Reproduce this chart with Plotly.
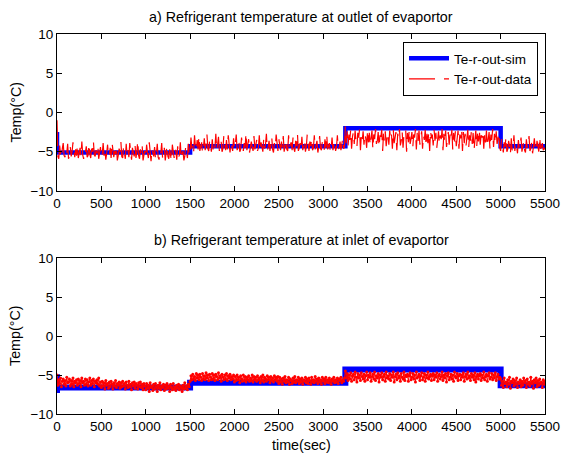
import numpy as np
import plotly.graph_objects as go
from plotly.subplots import make_subplots

# Sampling interval of the logged data (s)
DT = 10

# a) outlet of evaporator -- simulated step levels (hv steps)
sim_out_t = [0, 0, 1500, 3250, 5000, 5500]
sim_out_v = [-2.5, -5.1, -4.3, -2.0, -4.3, -4.3]

# a) outlet of evaporator -- measured data, one value every DT seconds
data_out_v = [
    # 0 - 1490 s
    -1.0, -5.6, -5.9, -4.2, -5.3, -5.8, -4.6, -3.9, -5.5, -5.7, -4.8, -5.2, -4.0, -5.9, -5.4, -4.4, -5.6, -5.0, -3.8, -5.3, -5.7, -4.7, -5.5, -4.1, -5.8,
    -5.2, -4.5, -5.6, -3.7, -5.4, -5.9, -4.9, -5.1, -4.3, -5.7, -5.5, -4.0, -5.3, -5.8, -4.6, -5.0, -3.6, -5.4, -5.6, -4.8, -5.2, -4.2, -5.9, -5.1, -4.4,
    -5.7, -5.3, -3.9, -5.5, -4.7, -6.0, -5.2, -4.1, -5.6, -5.4, -4.5, -5.8, -3.8, -5.1, -5.7, -4.9, -5.3, -4.3, -6.1, -5.5, -4.6, -5.0, -3.7, -5.6, -5.8,
    -4.4, -5.2, -5.9, -4.0, -5.4, -4.8, -5.7, -3.9, -5.3, -6.0, -4.5, -5.1, -5.6, -4.2, -5.8, -5.0, -3.6, -5.5, -5.9, -4.7, -5.3, -4.3, -6.1, -5.4, -4.9,
    -5.7, -4.1, -5.2, -5.8, -3.8, -5.5, -6.2, -4.6, -5.0, -5.6, -4.4, -5.9, -5.3, -4.0, -5.7, -6.0, -4.8, -5.2, -3.9, -5.8, -5.5, -4.5, -6.1, -5.1, -4.2,
    -5.6, -5.9, -4.7, -5.3, -6.2, -4.1, -5.5, -5.8, -4.6, -5.0, -6.0, -4.3, -5.7, -5.4, -3.8, -5.9, -5.2, -4.9, -6.1, -5.6, -4.4, -5.3, -5.8, -4.0, -5.5,
    # 1500 - 3240 s
    -4.9, -3.2, -4.6, -4.1, -5.0, -2.9, -4.4, -4.8, -3.5, -4.7, -3.0, -4.9, -4.3, -3.8, -5.1, -4.5, -3.3, -4.8, -4.0, -2.8, -4.6, -4.9, -3.6, -4.2, -5.0,
    -3.4, -4.7, -3.9, -4.5, -2.7, -4.8, -4.1, -3.1, -4.9, -4.4, -3.7, -5.0, -4.6, -3.0, -4.3, -4.8, -3.5, -4.7, -2.9, -4.5, -5.1, -3.8, -4.2, -4.9, -3.3,
    -4.6, -4.0, -2.8, -4.8, -4.4, -3.6, -5.0, -4.7, -3.2, -4.3, -4.9, -3.9, -4.5, -2.6, -4.8, -4.1, -3.4, -5.1, -4.6, -3.7, -4.4, -4.9, -3.0, -4.7, -4.2,
    -3.5, -4.9, -4.5, -2.9, -4.8, -3.8, -4.3, -5.0, -3.3, -4.6, -4.1, -2.7, -4.8, -4.4, -3.6, -4.9, -4.0, -3.1, -4.7, -5.1, -3.9, -4.5, -2.8, -4.6, -4.9,
    -3.4, -4.2, -4.8, -3.7, -4.5, -3.0, -5.0, -4.3, -3.5, -4.7, -4.9, -2.9, -4.4, -4.1, -3.8, -4.8, -3.2, -4.6, -5.0, -3.6, -4.3, -2.7, -4.9, -4.5, -3.9,
    -4.7, -3.1, -4.8, -4.2, -3.5, -5.0, -4.4, -2.8, -4.6, -4.9, -3.7, -4.3, -3.3, -4.8, -4.5, -2.9, -4.7, -4.0, -3.6, -5.1, -4.4, -3.0, -4.6, -4.8, -3.8,
    -4.2, -4.9, -3.4, -4.5, -2.8, -4.7, -4.3, -3.9, -5.0, -4.6, -3.2, -4.8, -4.1, -3.6, -4.9, -4.4, -2.9, -4.7, -4.5, -3.7, -4.8, -4.2, -3.3, -4.6, -4.4,
    # 3250 - 4990 s
    -1.8, -3.9, -2.4, -4.3, -2.8, -3.5, -2.2, -4.6, -3.1, -2.5, -4.0, -2.3, -3.7, -4.4, -2.6, -3.2, -2.1, -4.8, -2.9, -3.6, -2.4, -4.1, -2.7, -3.3, -4.5,
    -2.2, -3.8, -2.6, -4.2, -3.0, -2.3, -4.7, -2.8, -3.4, -2.1, -4.0, -3.6, -2.5, -4.4, -2.9, -3.1, -2.2, -4.9, -2.7, -3.7, -2.4, -4.3, -3.2, -2.6, -4.1,
    -2.3, -3.5, -2.8, -4.6, -2.2, -3.9, -3.0, -2.5, -4.8, -2.7, -3.3, -2.1, -4.2, -3.6, -2.4, -4.5, -2.9, -3.1, -2.3, -5.0, -2.6, -3.8, -2.2, -4.0, -3.4,
    -2.5, -4.4, -2.8, -3.2, -2.1, -4.7, -2.6, -3.7, -2.3, -4.1, -3.0, -2.4, -4.6, -2.9, -3.5, -2.2, -4.3, -2.7, -3.9, -2.5, -4.9, -2.3, -3.3, -2.8, -4.2,
    -2.2, -3.6, -2.6, -4.5, -3.1, -2.4, -4.0, -2.9, -3.4, -2.1, -4.8, -2.7, -3.8, -2.3, -4.4, -3.2, -2.5, -4.1, -2.8, -3.5, -2.2, -4.7, -2.6, -3.7, -2.4,
    -4.3, -3.0, -2.3, -4.6, -2.8, -3.3, -2.1, -4.9, -2.5, -3.9, -2.7, -4.2, -3.4, -2.2, -4.5, -2.9, -3.6, -2.4, -4.0, -2.6, -4.8, -3.1, -2.3, -4.4, -2.7,
    -3.7, -2.2, -4.1, -2.9, -3.2, -2.4, -4.6, -2.6, -3.8, -2.3, -4.3, -3.0, -2.5, -4.7, -2.8, -3.5, -2.1, -4.4, -2.7, -3.9, -2.4, -4.0, -3.3, -2.6, -4.5,
    # 5000 - 5500 s
    -4.9, -3.4, -4.6, -5.1, -3.8, -4.4, -3.1, -5.0, -4.7, -3.6, -4.2, -5.3, -3.3, -4.8, -4.5, -2.9, -4.9, -3.9, -4.3, -5.2, -3.5, -4.6, -4.1, -3.2, -5.0,
    -4.4, -3.7, -4.8, -5.1, -3.4, -4.5, -4.0, -3.0, -4.9, -4.6, -3.8, -5.2, -4.3, -3.3, -4.7, -4.9, -3.6, -4.2, -5.0, -3.1, -4.6, -4.4, -3.9, -4.8, -4.5,
    -4.7,
]

# b) inlet of evaporator -- simulated step levels (hv steps)
sim_in_t = [0, 0, 0, 1500, 3250, 5000, 5500]
sim_in_v = [-4.9, -7.3, -6.6, -6.0, -4.3, -6.3, -6.3]

# b) inlet of evaporator -- measured data, one value every DT seconds
data_in_v = [
    # 0 - 1490 s
    -5.0, -6.3, -5.6, -6.1, -5.4, -6.5, -5.8, -5.5, -6.2, -5.7, -6.4, -5.3, -6.0, -5.9, -5.5, -6.4, -5.7, -6.2, -5.4, -6.5, -5.8, -6.0, -5.6, -6.3, -5.5,
    -6.1, -5.7, -6.5, -5.4, -6.0, -5.8, -6.3, -5.5, -6.2, -5.6, -6.4, -5.9, -5.4, -6.3, -5.7, -6.1, -5.5, -6.5, -5.8, -6.0, -5.6, -6.2, -5.4, -6.4, -5.9,
    -6.6, -5.8, -6.4, -6.0, -6.8, -5.7, -6.3, -6.1, -6.7, -5.9, -6.5, -5.8, -6.2, -6.8, -6.0, -6.4, -5.7, -6.6, -6.1, -6.3, -5.9, -6.7, -6.0, -6.5, -5.8,
    -6.4, -6.1, -6.8, -5.9, -6.3, -6.6, -5.8, -6.5, -6.2, -6.9, -6.0, -6.4, -5.9, -6.7, -6.1, -6.3, -6.8, -6.0, -6.5, -5.9, -6.6, -6.2, -6.9, -6.1, -6.4,
    -6.9, -6.1, -6.7, -6.3, -7.1, -6.0, -6.6, -6.4, -7.0, -6.2, -6.8, -6.1, -6.5, -7.1, -6.3, -6.7, -6.0, -6.9, -6.4, -6.6, -6.2, -7.0, -6.3, -6.8, -6.1,
    -6.7, -6.4, -7.1, -6.2, -6.6, -6.9, -6.1, -6.8, -6.5, -7.0, -6.3, -6.7, -6.2, -6.9, -6.4, -6.6, -7.1, -6.3, -6.8, -6.0, -6.7, -6.4, -6.9, -6.2, -6.5,
    # 1500 - 3240 s
    -5.8, -5.1, -5.6, -4.9, -5.5, -5.2, -5.7, -4.8, -5.4, -5.0, -5.6, -4.9, -5.3, -5.7, -4.8, -5.5, -5.1, -5.6, -4.7, -5.4, -5.0, -5.7, -4.9, -5.3, -5.6,
    -4.8, -5.5, -5.0, -5.7, -4.9, -5.2, -5.6, -4.7, -5.4, -5.1, -5.8, -4.9, -5.3, -5.6, -5.0, -5.5, -4.8, -5.7, -5.1, -5.4, -4.9, -5.6, -5.2, -5.5, -5.0,
    -5.9, -5.2, -5.7, -5.0, -5.6, -5.3, -6.0, -5.1, -5.5, -5.8, -5.0, -5.7, -5.2, -5.9, -5.3, -5.6, -5.1, -5.8, -5.4, -5.7, -5.0, -5.9, -5.2, -5.6, -5.3,
    -5.8, -5.1, -5.6, -5.4, -6.0, -5.2, -5.7, -5.0, -5.9, -5.3, -5.5, -5.8, -5.1, -5.6, -5.3, -6.0, -5.2, -5.7, -5.4, -5.9, -5.1, -5.6, -5.3, -5.8, -5.2,
    -6.1, -5.3, -5.9, -5.5, -6.2, -5.4, -5.8, -5.2, -6.0, -5.6, -5.9, -5.3, -6.2, -5.5, -5.7, -6.1, -5.4, -5.9, -5.2, -6.0, -5.6, -5.8, -5.3, -6.1, -5.5,
    -5.9, -5.4, -6.2, -5.6, -5.8, -5.3, -6.0, -5.5, -6.1, -5.4, -5.7, -6.2, -5.3, -5.9, -5.6, -6.0, -5.2, -5.8, -5.5, -6.1, -5.4, -5.9, -5.6, -6.2, -5.3,
    -5.8, -5.5, -6.1, -5.3, -5.9, -5.6, -6.0, -5.4, -5.7, -6.2, -5.5, -5.8, -5.3, -6.0, -5.6, -5.9, -5.4, -6.1, -5.5, -5.7, -5.3, -6.0, -5.6, -5.8, -5.4,
    # 3250 - 4990 s
    -4.5, -5.4, -4.8, -5.7, -5.0, -5.5, -4.7, -5.8, -5.1, -4.9, -5.6, -4.6, -5.3, -5.9, -4.8, -5.4, -5.0, -5.7, -4.7, -5.2, -5.5, -4.9, -5.8, -5.1, -4.6,
    -5.6, -5.0, -5.3, -4.7, -5.8, -5.2, -4.9, -5.5, -4.6, -5.7, -5.1, -5.4, -4.8, -5.9, -5.0, -5.3, -4.7, -5.6, -5.2, -4.9, -5.8, -4.6, -5.4, -5.1, -5.5,
    -4.8, -5.7, -5.0, -5.3, -4.6, -5.9, -5.2, -4.9, -5.6, -4.7, -5.4, -5.1, -5.8, -4.8, -5.3, -5.5, -4.6, -5.7, -5.0, -5.2, -4.9, -5.8, -5.1, -4.7, -5.6,
    -5.3, -4.8, -5.5, -5.0, -5.9, -4.6, -5.4, -5.2, -4.9, -5.7, -5.1, -4.7, -5.6, -5.3, -4.8, -5.8, -5.0, -5.4, -4.6, -5.5, -5.2, -4.9, -5.7, -5.1, -4.8,
    -5.6, -5.0, -5.3, -4.7, -5.8, -5.1, -4.9, -5.5, -5.2, -4.6, -5.7, -5.0, -5.4, -4.8, -5.9, -5.1, -4.7, -5.6, -5.3, -4.9, -5.5, -5.0, -5.8, -4.6, -5.2,
    -5.4, -4.8, -5.7, -5.1, -4.9, -5.6, -5.0, -5.3, -4.7, -5.8, -5.2, -4.9, -5.5, -4.6, -5.4, -5.1, -5.7, -4.8, -5.3, -5.0, -5.6, -4.7, -5.9, -5.2, -4.9,
    -5.5, -5.1, -4.8, -5.7, -5.0, -5.4, -4.6, -5.6, -5.2, -4.9, -5.8, -5.1, -4.7, -5.5, -5.3, -4.8, -5.6, -5.0, -5.4, -4.7, -5.7, -5.2, -4.9, -5.5, -5.3,
    # 5000 - 5500 s
    -5.5, -6.3, -5.8, -6.6, -5.4, -6.1, -5.9, -6.5, -5.6, -6.2, -5.3, -6.7, -5.8, -6.0, -5.5, -6.4, -5.7, -6.2, -5.4, -6.6, -5.9, -6.1, -5.6, -6.5, -5.8,
    -6.3, -5.4, -6.0, -5.7, -6.6, -5.5, -6.2, -5.9, -6.4, -5.3, -6.1, -5.8, -6.7, -5.6, -6.0, -5.4, -6.5, -5.7, -6.3, -5.5, -6.1, -5.9, -6.6, -5.6, -6.2,
    -5.8,
]

x_ticks = [0, 500, 1000, 1500, 2000, 2500, 3000, 3500, 4000, 4500, 5000, 5500]
y_ticks = [-10, -5, 0, 5, 10]

titles = ["a) Refrigerant temperature at outlet of evaportor",
          "b) Refrigerant temperature at inlet of evaportor"]

t_out = np.arange(len(data_out_v)) * DT
t_in = np.arange(len(data_in_v)) * DT

FONT = "Liberation Sans, Arial, sans-serif"
BLUE = "#0000ff"
RED = "#ff0000"
TICK_SIZE = 13.5
TEXT_SIZE = 14.3

W, H = 561, 458
ML, MR, MT, MB = 57, 16, 34, 44
ph = H - MT - MB
pw = W - ML - MR


def py(pix):
    """pixel row -> paper y"""
    return (H - MB - pix) / ph


fig = make_subplots(rows=2, cols=1, vertical_spacing=0.0)

# top panel
fig.add_trace(go.Scatter(x=sim_out_t, y=sim_out_v, mode="lines", line_shape="hv",
                         line=dict(color=BLUE, width=4.5), name="Te-r-out-sim"),
              row=1, col=1)
fig.add_trace(go.Scatter(x=t_out, y=data_out_v, mode="lines",
                         line=dict(color=RED, width=1.2, dash="26px,9px"),
                         name="Te-r-out-data"),
              row=1, col=1)

# bottom panel
fig.add_trace(go.Scatter(x=sim_in_t, y=sim_in_v, mode="lines", line_shape="hv",
                         line=dict(color=BLUE, width=6), showlegend=False),
              row=2, col=1)
fig.add_trace(go.Scatter(x=t_in, y=data_in_v, mode="lines+markers",
                         line=dict(color=RED, width=1),
                         marker=dict(color=RED, size=3),
                         showlegend=False),
              row=2, col=1)

axis_style = dict(showline=True, linecolor="black", linewidth=1, mirror="ticks",
                  ticks="inside", ticklen=5, tickcolor="black", showgrid=False,
                  zeroline=False, automargin=False,
                  tickfont=dict(family=FONT, size=TICK_SIZE, color="black"))

fig.update_xaxes(range=[0, 5500], tickvals=x_ticks, **axis_style)
fig.update_yaxes(range=[-10, 10], tickvals=y_ticks, **axis_style)

fig.update_layout(
    xaxis=dict(domain=[0, 1]), xaxis2=dict(domain=[0, 1]),
    yaxis=dict(domain=[py(191), 1.0]),
    yaxis2=dict(domain=[0.0, py(258)]),
)

ann = []
for txt, pix in zip(titles, [17, 240]):
    ann.append(dict(text=txt, x=0.5, y=py(pix), xref="paper", yref="paper",
                    xanchor="center", yanchor="middle", showarrow=False,
                    font=dict(family=FONT, size=TEXT_SIZE, color="black")))
for pix in [112.5, 336]:
    ann.append(dict(text="Temp(°C)", x=(15 - ML) / pw, y=py(pix),
                    xref="paper", yref="paper", textangle=-90,
                    xanchor="center", yanchor="middle", showarrow=False,
                    font=dict(family=FONT, size=TEXT_SIZE, color="black")))
ann.append(dict(text="time(sec)", x=0.5, y=py(445), xref="paper", yref="paper",
                xanchor="center", yanchor="middle", showarrow=False,
                font=dict(family=FONT, size=TEXT_SIZE, color="black")))

fig.update_layout(
    width=W, height=H,
    margin=dict(l=ML, r=MR, t=MT, b=MB, autoexpand=False),
    paper_bgcolor="white", plot_bgcolor="white",
    annotations=ann,
    showlegend=True,
    legend=dict(x=(538 - ML) / pw, y=py(42), xanchor="right", yanchor="top",
                bgcolor="white", bordercolor="black", borderwidth=1,
                font=dict(family=FONT, size=13.5, color="black"),
                tracegroupgap=0, itemwidth=40),
)

fig.write_html("out.html")
